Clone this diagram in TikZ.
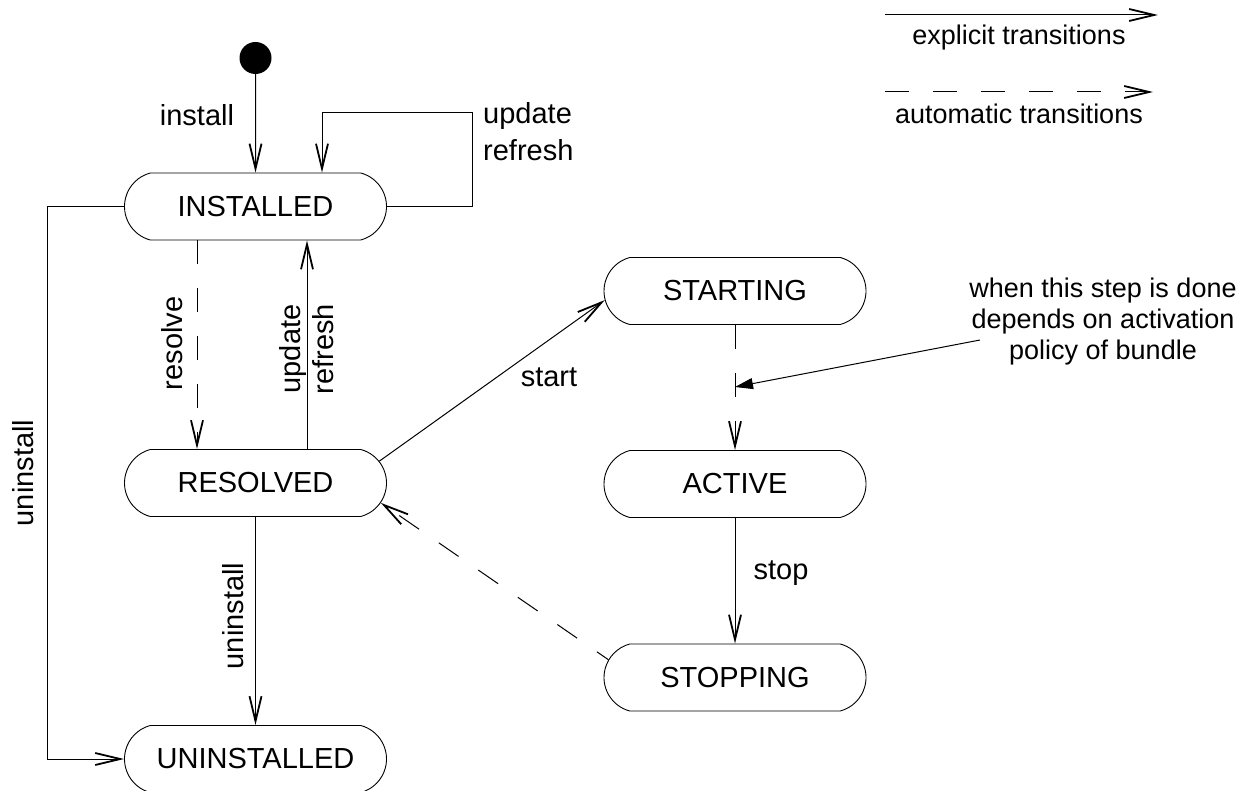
\documentclass[tikz,border=0pt]{standalone}
\usepackage{fontspec}
\setmainfont{Liberation Sans}
\usetikzlibrary{arrows.meta,shapes.misc,calc}
\begin{document}
\begin{tikzpicture}[x=1pt,y=-1pt,
  state/.style={draw, line width=0.9pt, rounded rectangle, rounded rectangle arc length=150,
    minimum width=262pt, minimum height=67pt, inner sep=0pt, font=\fontsize{29}{35}\selectfont},
  lbl/.style={font=\fontsize{29}{33}\selectfont, inner sep=0pt},
  small/.style={font=\fontsize{27}{31}\selectfont, inner sep=0pt, align=center},
  conn/.style={line width=1pt, -{Straight Barb[length=25pt,width=12pt,line width=1.8pt]}},
  autoconn/.style={conn, dash pattern=on 24pt off 24pt},
  pointer/.style={line width=1pt, -{Stealth[length=18pt,width=11pt,inset=0pt]}}
]
\useasboundingbox (0,0) rectangle (1249,791);

% states
\node[circle, fill, minimum size=32pt, inner sep=0pt] (init) at (255.5,58) {};
\node[state] (installed)   at (255.5,206.5) {INSTALLED};
\node[state] (resolved)    at (255.5,483)   {RESOLVED};
\node[state] (uninstalled) at (255.5,759)   {UNINSTALLED};
\node[state] (starting)    at (735,291)     {STARTING};
\node[state] (active)      at (735,484)     {ACTIVE};
\node[state] (stopping)    at (735,677.5)   {STOPPING};

% helper coordinates
\coordinate (loopc) at (472,113);
\coordinate (ulx) at (47,0);

% labels
\node[lbl] (linstall) at (197,115) {install};
\node[lbl, anchor=west, align=left, font=\fontsize{29}{37}\selectfont] (lupdate) at (483,131.5) {update\\refresh};
\node[lbl, rotate=90] (lresolve) at (172,343.5) {resolve};
\node[lbl, rotate=90, align=center] (lupdate2) at (306.5,349) {update\\refresh};
\node[lbl, rotate=90] (luninst1) at (23,473) {uninstall};
\node[lbl, rotate=90] (luninst2) at (233,616) {uninstall};
\node[lbl] (lstart) at (549,377) {start};
\node[lbl] (lstop) at (781,573) {stop};

% connectors
\draw[conn] (init) -- (installed);
\draw[conn] (installed.east) -| (loopc) -| ([xshift=66.5pt]installed.north);
\draw[conn] (installed.west) -- (installed.west -| ulx) |- (uninstalled.west);
\draw[autoconn] ([xshift=-58.5pt]installed.south) -- ([xshift=-58.5pt]resolved.north);
\draw[conn] ([xshift=51.5pt]resolved.north) -- ([xshift=51.5pt]installed.south);
\draw[conn] (resolved.south) -- (uninstalled.north);
\draw[conn] (resolved.10.6) -- (starting.184);
\draw[autoconn] (starting.south) -- (active.north);
\draw[conn] (active.south) -- (stopping.north);
\draw[autoconn, dash phase=10pt] (stopping.172.2) -- (resolved.-9.1);

% annotation
\node[small] (note) at (1103,322) {when this step is done\\depends on activation\\policy of bundle};
\coordinate (notestart) at (980,340);
\coordinate (notetip) at (735,387);
\draw[pointer] (notestart) -- (notetip);

% legend
\coordinate (le1a) at (885,15);
\coordinate (le1b) at (1158,15);
\coordinate (le2a) at (885,92);
\coordinate (le2b) at (1153,92);
\draw[conn] (le1a) -- (le1b);
\node[small] (lexpl) at (1019,38) {explicit transitions};
\draw[autoconn] (le2a) -- (le2b);
\node[small] (lauto) at (1019,114) {automatic transitions};
\end{tikzpicture}
\end{document}
